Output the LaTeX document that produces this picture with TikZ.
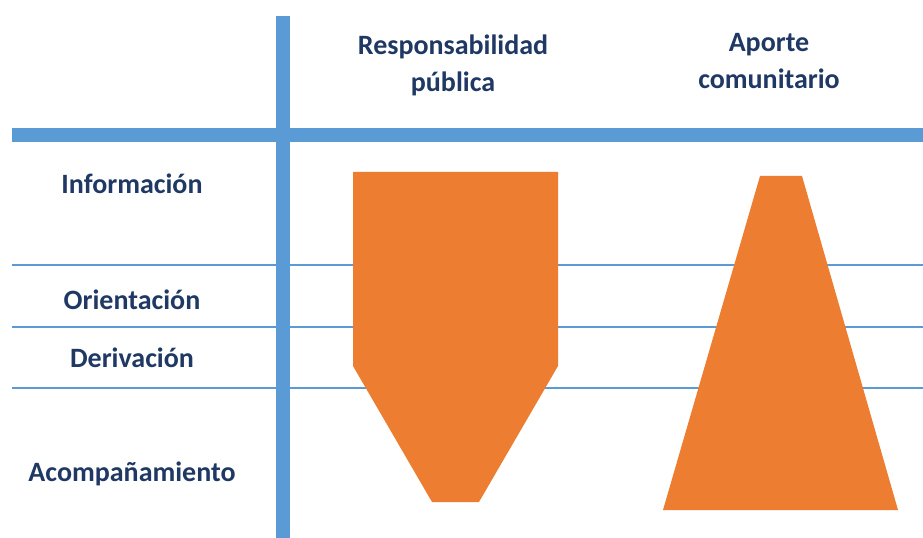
\documentclass[tikz,border=0pt]{standalone}
\usepackage{fontspec}
\setmainfont{Carlito}
\definecolor{gridblue}{HTML}{5B9BD5}
\definecolor{shapeorange}{HTML}{ED7D31}
\definecolor{textnavy}{HTML}{1F3864}
\begin{document}
\begin{tikzpicture}[x=1bp,y=-1bp,
  thickline/.style={draw=gridblue,line width=14bp},
  thinline/.style={draw=gridblue,line width=1.3bp},
  lbl/.style={text=textnavy,font=\fontsize{28bp}{37bp}\selectfont\bfseries,align=center,inner sep=0pt},
  blob/.style={fill=shapeorange,draw=none}]
\useasboundingbox (0,0) rectangle (923,538);
\fill[white] (0,0) rectangle (923,538);
% thin row separators
\draw[thinline] (12,265) -- (923,265);
\draw[thinline] (12,327) -- (923,327);
\draw[thinline] (12,388) -- (923,388);
% thick axes
\draw[thickline] (283,16) -- (283,538);
\draw[thickline] (12,135) -- (923,135);
% shapes
\fill[blob] (353,172) -- (558,172) -- (558,366) -- (479,502) -- (432,502) -- (353,366) -- cycle;
\fill[blob] (760,176) -- (802,176) -- (898,510) -- (663,510) -- cycle;
% headers
\node[lbl] (resp) at (453,65) {Responsabilidad\\pública};
\node[lbl] (apor) at (769,61) {Aporte\\comunitario};
% row labels
\node[lbl] (info) at (132,184) {Información};
\node[lbl] (orie) at (132,300) {Orientación};
\node[lbl] (deri) at (132,358) {Derivación};
\node[lbl] (acom) at (132,474) {Acompañamiento};
\end{tikzpicture}
\end{document}
